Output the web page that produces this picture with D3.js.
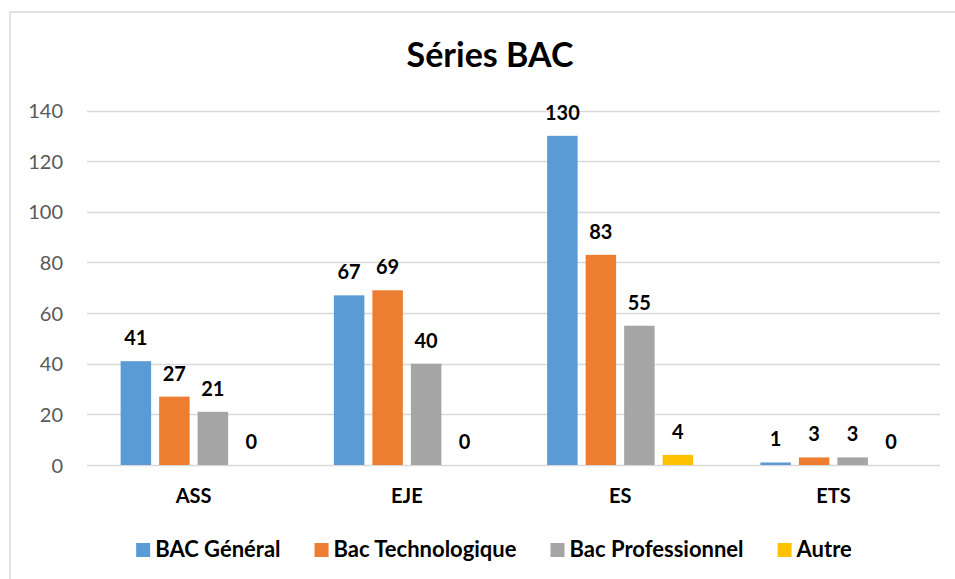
<!DOCTYPE html>
<html><head><meta charset="utf-8">
<script src="https://cdn.jsdelivr.net/npm/d3@7"></script>
<style>body{margin:0;background:#fff;}svg{display:block;font-family:Lato,"Open Sans",sans-serif;}</style>
</head><body>
<svg id="c" width="955" height="579"></svg>
<script>
const categories = ["ASS", "EJE", "ES", "ETS"];
const seriesNames = ["BAC Général", "Bac Technologique", "Bac Professionnel", "Autre"];
const bacGeneral = [41, 67, 130, 1];
const bacTechno = [27, 69, 83, 3];
const bacPro = [21, 40, 55, 3];
const autre = [0, 0, 4, 0];
const yTicks = [0, 20, 40, 60, 80, 100, 120, 140];
const colors = ["#5B9BD5", "#ED7D31", "#A5A5A5", "#FFC000"];
const chartTitle = "Séries BAC";

const seriesValues = [bacGeneral, bacTechno, bacPro, autre];
const svg = d3.select("#c");

// border
svg.append("rect").attr("x", 10).attr("y", 12).attr("width", 1000).attr("height", 1000)
  .attr("fill", "#fff").attr("stroke", "#D9D9D9").attr("stroke-width", 1.5);

const plotLeft = 87, plotRight = 940, plotTop = 110.5, plotBottom = 465;
const y = d3.scaleLinear().domain([0, 140]).range([plotBottom, plotTop]);
const x0 = d3.scaleBand().domain(categories).range([plotLeft, plotRight]).paddingInner(0).paddingOuter(0);
const groupW = 146;
const x1 = d3.scaleBand().domain(seriesNames)
  .range([(x0.bandwidth() - groupW) / 2, (x0.bandwidth() + groupW) / 2]).paddingInner(0.208).paddingOuter(0);

// gridlines
svg.append("g").selectAll("line").data(yTicks).join("line")
  .attr("x1", plotLeft).attr("x2", plotRight)
  .attr("y1", d => Math.round(y(d)) + 0.5).attr("y2", d => Math.round(y(d)) + 0.5)
  .attr("stroke", "#D9D9D9").attr("stroke-width", 1.5);

// y axis labels
const yAxis = d3.axisLeft(y).tickValues(yTicks).tickSize(0).tickPadding(0);
const ga = svg.append("g").attr("transform", `translate(${63},0)`).call(yAxis);
ga.select(".domain").remove();
ga.selectAll("text").attr("font-size", 20).attr("fill", "#595959").attr("font-family", "Lato").attr("dy", "0.35em");

// bars
const groups = svg.append("g").selectAll("g").data(categories).join("g")
  .attr("transform", d => `translate(${x0(d)},0)`);
groups.each(function(cat, ci) {
  const g = d3.select(this);
  seriesNames.forEach((s, si) => {
    const v = seriesValues[si][ci];
    if (v > 0) {
      g.append("rect").attr("x", x1(s)).attr("width", x1.bandwidth())
        .attr("y", y(v)).attr("height", y(0) - y(v)).attr("fill", colors[si]);
    }
    g.append("text").attr("x", x1(s) + x1.bandwidth() / 2).attr("y", y(v) - 16)
      .attr("text-anchor", "middle").attr("font-size", 20).attr("font-weight", "bold")
      .attr("fill", "#000").text(v);
  });
});

// x axis labels
const xAxis = d3.axisBottom(x0).tickSize(0).tickPadding(0);
const gx = svg.append("g").attr("transform", `translate(0,${plotBottom})`).call(xAxis);
gx.select(".domain").remove();
gx.selectAll("text").attr("font-size", 20).attr("font-weight", "bold").attr("fill", "#000")
  .attr("font-family", "Lato").attr("dy", 0).attr("y", 38);

// title
svg.append("text").attr("x", 490).attr("y", 67).attr("text-anchor", "middle")
  .attr("font-size", 34).attr("font-weight", "bold").attr("fill", "#000").text(chartTitle);

// legend
const lg = svg.append("g");
let cx = 0;
const gap = 34;
seriesNames.forEach((s, i) => {
  const it = lg.append("g").attr("transform", `translate(${cx},0)`);
  it.append("rect").attr("x", 0).attr("y", 543).attr("width", 14).attr("height", 14).attr("fill", colors[i]);
  const t = it.append("text").attr("x", 19).attr("y", 557).attr("font-size", 22).attr("font-weight", "bold")
    .attr("fill", "#000").text(s);
  cx += 19 + t.node().getComputedTextLength() + gap;
});
const totalW = cx - gap;
lg.attr("transform", `translate(${494 - totalW / 2},0)`);
</script>
</body></html>
